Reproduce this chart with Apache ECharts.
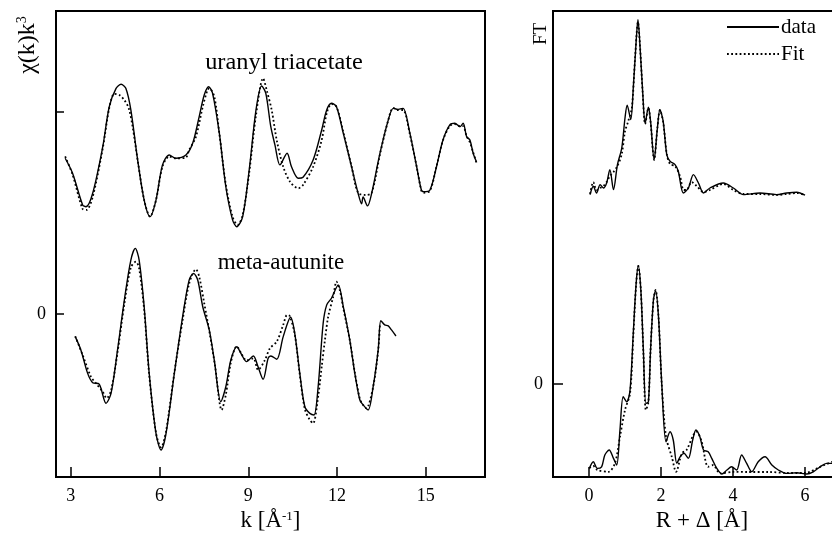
<!DOCTYPE html>
<html>
<head>
<meta charset="utf-8">
<script src="https://cdn.jsdelivr.net/npm/echarts@6/dist/echarts.min.js"></script>
<style>
  html, body { margin: 0; padding: 0; background: #fff; }
  #chart { width: 832px; height: 535px; }
</style>
</head>
<body>
<div id="chart"></div>
<script>
// ---------- EXAFS chi(k)k^3 : uranyl triacetate (k, value) ----------
const uranylData = [[2.81,7.71],[3.06,6.97],[3.40,5.40],[3.51,5.31],[3.74,5.98],[4.08,8.28],[4.30,10.26],[4.53,11.17],[4.70,11.37],[4.86,11.17],[5.03,10.10],[5.26,7.62],[5.48,5.64],[5.68,4.82],[5.88,5.64],[6.10,7.38],[6.33,7.87],[6.55,7.71],[6.89,7.87],[7.12,8.45],[7.34,9.77],[7.51,10.84],[7.66,11.25],[7.79,10.93],[8.02,8.95],[8.24,6.30],[8.47,4.65],[8.61,4.32],[8.81,4.82],[9.03,7.13],[9.26,10.10],[9.45,11.29],[9.59,10.93],[9.76,9.27],[9.90,8.37],[10.07,7.38],[10.31,7.96],[10.46,7.29],[10.69,6.72],[10.85,6.77],[11.19,7.62],[11.48,9.11],[11.65,10.10],[11.81,10.43],[11.98,10.26],[12.21,8.95],[12.49,7.29],[12.71,5.98],[12.83,5.45],[12.88,5.79],[13.03,5.35],[13.17,5.98],[13.45,7.96],[13.73,9.60],[13.90,10.18],[14.06,10.13],[14.23,10.18],[14.46,8.95],[14.69,7.29],[14.85,6.14],[14.93,6.05],[15.14,6.14],[15.36,7.29],[15.58,8.61],[15.81,9.36],[15.98,9.44],[16.15,9.27],[16.26,9.44],[16.38,8.78],[16.49,8.61],[16.60,7.96],[16.71,7.54]];
const uranylFit = [[2.81,7.8],[3.06,6.9],[3.40,5.2],[3.53,5.15],[3.74,5.8],[4.08,8.2],[4.30,10.2],[4.47,10.9],[4.64,10.84],[4.81,10.59],[4.96,10.18],[5.09,9.27],[5.26,7.62],[5.48,5.64],[5.68,4.82],[5.88,5.64],[6.10,7.3],[6.33,7.8],[6.55,7.7],[6.89,7.75],[7.00,8.12],[7.23,8.78],[7.46,10.26],[7.62,11.09],[7.68,11.17],[7.85,10.76],[8.02,8.95],[8.24,6.4],[8.47,4.8],[8.64,4.41],[8.81,4.9],[9.03,7.0],[9.26,9.85],[9.50,11.67],[9.62,11.09],[9.79,10.10],[9.96,8.61],[10.18,7.29],[10.41,6.55],[10.69,6.22],[10.85,6.39],[11.19,7.29],[11.48,8.61],[11.65,9.94],[11.81,10.40],[11.98,10.26],[12.21,9.0],[12.49,7.3],[12.71,6.0],[12.96,5.89],[13.17,6.0],[13.45,7.9],[13.73,9.6],[13.90,10.2],[14.06,10.1],[14.23,10.1],[14.46,8.9],[14.69,7.3],[14.85,6.1],[14.93,6.0],[15.14,6.1],[15.36,7.3],[15.58,8.6],[15.81,9.3],[15.98,9.4],[16.15,9.3],[16.26,9.3],[16.38,8.8],[16.49,8.5],[16.60,8.0],[16.71,7.5]];

// ---------- EXAFS chi(k)k^3 : meta-autunite (k, value) ----------
const autuniteData = [[3.15,-1.12],[3.34,-1.78],[3.57,-2.94],[3.74,-3.40],[3.96,-3.47],[4.19,-4.42],[4.36,-3.93],[4.58,-1.78],[4.81,0.69],[5.03,2.67],[5.18,3.25],[5.31,2.67],[5.48,0.36],[5.65,-2.94],[5.88,-5.91],[6.05,-6.73],[6.22,-5.91],[6.50,-2.94],[6.78,-0.13],[7.00,1.68],[7.15,2.01],[7.29,1.68],[7.46,0.36],[7.68,-0.79],[7.85,-2.28],[8.07,-4.34],[8.24,-3.60],[8.41,-2.28],[8.61,-1.62],[8.78,-2.03],[8.94,-2.36],[9.17,-2.08],[9.32,-2.57],[9.50,-3.23],[9.67,-2.19],[9.76,-2.08],[9.96,-2.24],[10.18,-1.12],[10.43,-0.16],[10.57,-0.96],[10.74,-2.94],[10.91,-4.59],[11.08,-4.92],[11.22,-5.00],[11.36,-3.60],[11.53,-0.46],[11.65,0.45],[11.81,0.78],[12.04,1.44],[12.21,0.36],[12.43,-1.29],[12.60,-2.94],[12.77,-4.26],[12.88,-4.50],[13.05,-4.75],[13.22,-3.60],[13.39,-1.78],[13.48,-0.33],[13.61,-0.54],[13.73,-0.59],[13.84,-0.79],[13.99,-1.09]];
const autuniteFit = [[3.15,-1.1],[3.40,-2.03],[3.68,-3.10],[3.85,-3.43],[4.08,-3.85],[4.21,-4.17],[4.36,-3.8],[4.58,-1.9],[4.81,0.5],[5.03,2.3],[5.20,2.59],[5.31,2.26],[5.48,0.2],[5.65,-3.0],[5.88,-5.9],[6.05,-6.6],[6.22,-5.8],[6.50,-2.9],[6.78,-0.3],[7.00,1.5],[7.23,2.21],[7.34,1.85],[7.51,0.53],[7.70,-1.0],[7.88,-2.61],[8.10,-4.75],[8.24,-4.0],[8.41,-2.4],[8.61,-1.6],[8.78,-2.0],[8.94,-2.3],[9.17,-2.2],[9.33,-2.77],[9.56,-2.28],[9.73,-1.70],[9.96,-1.37],[10.18,-0.54],[10.31,-0.05],[10.40,-0.1],[10.57,-1.0],[10.74,-3.0],[10.91,-4.7],[11.08,-5.25],[11.19,-5.41],[11.36,-4.09],[11.48,-2.61],[11.59,-1.29],[11.70,-0.13],[11.87,0.86],[11.98,1.60],[12.09,1.19],[12.21,0.3],[12.43,-1.3],[12.60,-2.9],[12.77,-4.2],[12.88,-4.5],[12.99,-4.67],[13.22,-3.6],[13.39,-1.8],[13.45,-0.46]];

// ---------- Fourier transform magnitude : uranyl triacetate (R+Δ, value) ----------
const ftUranylData = [[0.03,9.47],[0.12,9.89],[0.21,9.55],[0.31,9.97],[0.40,9.80],[0.49,10.05],[0.58,10.72],[0.68,9.72],[0.79,10.97],[0.91,11.80],[1.00,13.30],[1.06,13.94],[1.16,13.22],[1.23,14.80],[1.31,17.14],[1.36,18.22],[1.42,16.80],[1.49,14.64],[1.56,13.05],[1.65,13.84],[1.71,13.14],[1.81,11.22],[1.90,12.80],[1.97,13.72],[2.06,13.14],[2.16,11.47],[2.25,11.14],[2.39,10.97],[2.48,10.64],[2.62,9.55],[2.76,9.80],[2.90,10.47],[3.04,10.05],[3.18,9.55],[3.36,9.80],[3.73,10.05],[4.01,9.80],[4.29,9.47],[4.75,9.55],[5.21,9.47],[5.49,9.55],[5.77,9.59],[6.00,9.44]];
const ftUranylFit = [[0.03,9.5],[0.12,10.1],[0.21,9.7],[0.31,9.8],[0.40,9.9],[0.49,10.1],[0.58,10.4],[0.68,10.6],[0.79,10.9],[0.91,11.5],[1.00,12.63],[1.09,13.14],[1.19,13.80],[1.28,16.30],[1.36,18.1],[1.42,16.8],[1.49,14.6],[1.56,13.0],[1.65,13.8],[1.71,13.1],[1.81,11.2],[1.90,12.8],[1.97,13.7],[2.06,13.1],[2.16,11.5],[2.25,11.0],[2.39,10.9],[2.53,10.38],[2.62,9.72],[2.71,9.7],[2.85,10.1],[2.99,9.9],[3.18,9.6],[3.36,9.7],[3.73,10.0],[4.01,9.7],[4.29,9.5],[4.75,9.5],[5.21,9.45],[5.49,9.5],[5.77,9.55],[6.00,9.45]];

// ---------- Fourier transform magnitude : meta-autunite (R+Δ, value) ----------
const ftAutuniteData = [[0.01,-4.22],[0.12,-3.89],[0.23,-4.22],[0.35,-4.14],[0.44,-3.55],[0.56,-3.30],[0.68,-3.72],[0.77,-4.05],[0.86,-2.30],[0.95,-0.64],[1.05,-0.89],[1.14,-0.30],[1.23,2.54],[1.31,5.04],[1.37,5.90],[1.44,4.70],[1.51,1.70],[1.58,-0.97],[1.65,-0.89],[1.71,1.70],[1.79,4.20],[1.85,4.67],[1.93,3.37],[2.02,0.04],[2.14,-2.89],[2.25,-2.39],[2.34,-2.80],[2.44,-3.97],[2.53,-3.64],[2.64,-3.47],[2.76,-3.72],[2.88,-2.80],[2.97,-2.30],[3.08,-2.64],[3.18,-3.30],[3.31,-3.39],[3.41,-3.72],[3.55,-4.22],[3.69,-4.50],[3.83,-4.30],[3.96,-4.14],[4.10,-4.30],[4.24,-3.55],[4.38,-3.97],[4.52,-4.39],[4.70,-3.89],[4.89,-3.64],[5.08,-4.05],[5.26,-4.30],[5.49,-4.47],[5.77,-4.44],[6.05,-4.50],[6.23,-4.39],[6.42,-4.14],[6.60,-3.97],[6.75,-3.97]];
const ftAutuniteFit = [[0.01,-4.2],[0.12,-4.1],[0.23,-4.3],[0.54,-4.39],[0.72,-3.97],[0.86,-2.64],[1.00,-1.30],[1.14,-0.47],[1.23,2.4],[1.31,5.0],[1.37,5.9],[1.44,4.7],[1.51,1.6],[1.58,-1.30],[1.65,-0.9],[1.71,1.7],[1.79,4.2],[1.85,4.7],[1.93,3.4],[2.02,0.0],[2.14,-2.64],[2.30,-3.64],[2.42,-4.39],[2.58,-3.47],[2.71,-3.30],[2.90,-2.55],[2.99,-2.39],[3.13,-2.89],[3.31,-4.14],[3.45,-4.05],[3.64,-4.47],[4.01,-4.39],[4.40,-4.40],[5.00,-4.40],[5.50,-4.45],[6.00,-4.45],[6.42,-4.14],[6.75,-3.89]];

// ---------- ticks / labels ----------
const kTicks = [3, 6, 9, 12, 15];
const rTicks = [0, 2, 4, 6];
const chiTicks = [0, 10];
const chiLabels = [0];
const ftTicks = [0];
const ftLabels = [0];
const sampleNames = ['uranyl triacetate', 'meta-autunite'];
const legendNames = ['data', 'Fit'];

const FONT = 'Liberation Serif';
const chart = echarts.init(document.getElementById('chart'), null, { renderer: 'canvas' });

const solid = { color: '#000', width: 1.4 };
const dotted = { color: '#000', width: 1.8, type: [1.8, 2.4] };
function line(name, data, xi, style) {
  return { name, type: 'line', xAxisIndex: xi, yAxisIndex: xi, data,
    symbol: 'none', showSymbol: false, smooth: 0.3, lineStyle: style,
    itemStyle: { color: '#000' }, silent: true, z: style.type ? 3 : 2 };
}
const tickStyle = { show: true, inside: true, length: 10, lineStyle: { color: '#000', width: 1.5 } };
const labelStyle = { color: '#000', fontFamily: FONT, fontSize: 18 };
const noLine = { show: false, onZero: false };

chart.setOption({
  animation: false,
  backgroundColor: '#fff',
  grid: [
    { left: 56, top: 11, width: 429, height: 466, containLabel: false, outerBoundsMode: 'none',
      show: true, borderColor: '#000', borderWidth: 2, backgroundColor: 'transparent' },
    { left: 553, top: 11, width: 306, height: 466, containLabel: false, outerBoundsMode: 'none',
      show: true, borderColor: '#000', borderWidth: 2, backgroundColor: 'transparent' }
  ],
  xAxis: [
    { type: 'value', gridIndex: 0, min: 2.5, max: 17, position: 'bottom',
      axisLine: noLine, splitLine: { show: false },
      axisTick: Object.assign({ customValues: kTicks }, tickStyle),
      axisLabel: Object.assign({ customValues: kTicks, margin: 10 }, labelStyle),
      name: '{a|k [Å}{s|-1}{a|]}', nameLocation: 'middle', nameGap: 28,
      nameTextStyle: { rich: { a: { fontFamily: FONT, fontSize: 23, color: '#000' }, s: { fontFamily: FONT, fontSize: 13, color: '#000', padding: [0, 0, 10, 0] } } } },
    { type: 'value', gridIndex: 1, min: -1, max: 7.5, position: 'bottom',
      axisLine: noLine, splitLine: { show: false },
      axisTick: Object.assign({ customValues: rTicks }, tickStyle),
      axisLabel: Object.assign({ customValues: rTicks, margin: 10 }, labelStyle),
      name: 'R + Δ [Å]', nameLocation: 'middle', nameGap: 28,
      nameTextStyle: { fontFamily: FONT, fontSize: 23, color: '#000', padding: [0, 8, 0, 0] } }
  ],
  yAxis: [
    { type: 'value', gridIndex: 0, min: -8.07, max: 15.0, position: 'left',
      axisLine: noLine, splitLine: { show: false },
      axisTick: Object.assign({}, tickStyle, { customValues: chiTicks, length: 8 }),
      axisLabel: Object.assign({ customValues: chiLabels, margin: 10 }, labelStyle) },
    { type: 'value', gridIndex: 1, min: -4.65, max: 18.65, position: 'left',
      axisLine: noLine, splitLine: { show: false },
      axisTick: Object.assign({ customValues: ftTicks }, tickStyle),
      axisLabel: Object.assign({ customValues: ftLabels, margin: 10 }, labelStyle) }
  ],
  legend: {
    data: legendNames, orient: 'vertical', left: 726, top: 16, padding: 0,
    itemWidth: 52, itemHeight: 14, itemGap: 5, selectedMode: false,
    itemStyle: { opacity: 0 },
    textStyle: { fontFamily: FONT, fontSize: 21, color: '#000', lineHeight: 22, padding: [0, 0, 0, -3] }
  },
  graphic: [
    { type: 'text', x: 284, y: 63, scaleX: 1.06, style: { text: sampleNames[0], fontFamily: FONT, fontSize: 23, fill: '#000', align: 'center', verticalAlign: 'middle' } },
    { type: 'text', x: 281, y: 263, style: { text: sampleNames[1], fontFamily: FONT, fontSize: 23, fill: '#000', align: 'center', verticalAlign: 'middle' } },
    { type: 'text', x: 28, y: 45, rotation: Math.PI / 2,
      style: { text: '{a|χ(k)k}{s|3}', align: 'center', verticalAlign: 'middle',
        rich: { a: { fontFamily: FONT, fontSize: 24, fill: '#000', color: '#000' }, s: { fontFamily: FONT, fontSize: 14, color: '#000', padding: [0, 0, 11, 0] } } } },
    { type: 'text', x: 541, y: 34, rotation: Math.PI / 2,
      style: { text: 'FT', fontFamily: FONT, fontSize: 19, fill: '#000', align: 'center', verticalAlign: 'middle' } }
  ],
  series: [
    line('data', uranylData, 0, solid),
    line('Fit', uranylFit, 0, dotted),
    line('data', autuniteData, 0, solid),
    line('Fit', autuniteFit, 0, dotted),
    line('data', ftUranylData, 1, solid),
    line('Fit', ftUranylFit, 1, dotted),
    line('data', ftAutuniteData, 1, solid),
    line('Fit', ftAutuniteFit, 1, dotted)
  ]
});
</script>
</body>
</html>
